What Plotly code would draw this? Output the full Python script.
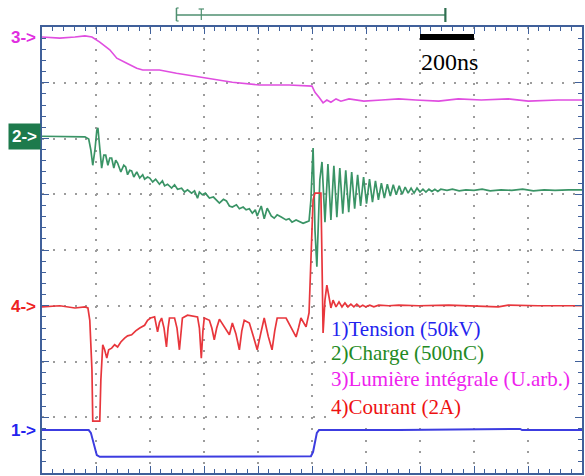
import plotly.graph_objects as go

# ---------------- data (time in ns, amplitude in screen divisions) ----------------
t_lum = [0, 66, 122, 159, 185, 199, 214, 251, 277, 314, 351, 373, 435, 498, 535, 583, 620,
         705, 804, 915, 1000, 1011, 1026, 1041, 1055, 1070, 1089, 1107, 1137, 1192, 1258,
         1321, 1384, 1469, 1542, 1627, 1727, 1801, 1911, 2000]
v_lum = [7.82, 7.80, 7.82, 7.84, 7.82, 7.78, 7.73, 7.59, 7.44, 7.35, 7.26, 7.23, 7.23, 7.17,
         7.14, 7.10, 7.07, 7.01, 6.96, 6.96, 6.94, 6.83, 6.74, 6.64, 6.69, 6.65, 6.71, 6.67,
         6.71, 6.67, 6.69, 6.71, 6.69, 6.67, 6.71, 6.69, 6.71, 6.67, 6.69, 6.69]

t_chg = [0, 103, 159, 173, 181, 188, 196, 203, 207, 214, 221, 229, 236, 244, 251, 258, 266,
         273, 280, 292, 303, 310, 317, 325, 332, 340, 351, 362, 373, 380, 391, 399, 410, 421,
         435, 446, 454, 465, 480, 491, 502, 517, 528, 539, 554, 565, 576, 583, 594, 605, 620,
         635, 646, 657, 672, 683, 694, 705, 720, 731, 745, 756, 768, 779, 790, 797, 812, 823,
         834, 849, 860, 871, 886, 904, 915, 926, 941, 952, 967, 978, 989, 996, 1000, 1004,
         1007, 1011, 1018, 1022, 1029, 1037, 1048, 1059, 1070, 1081, 1092, 1103, 1114, 1125,
         1136, 1147, 1158, 1169, 1180, 1191, 1202, 1213, 1224, 1235, 1246, 1257, 1268, 1279,
         1290, 1301, 1312, 1323, 1334, 1345, 1356, 1367, 1378, 1389, 1400, 1411, 1422, 1433,
         1444, 1455, 1466, 1477, 1500, 1520, 1545, 1570, 1600, 1630, 1660, 1700, 1740, 1780,
         1820, 1860, 1900, 1950, 2000]
v_chg = [6.04, 6.04, 6.03, 5.99, 5.79, 5.52, 5.79, 6.15, 6.19, 5.83, 5.47, 5.70, 5.70, 5.52,
         5.65, 5.65, 5.47, 5.61, 5.56, 5.40, 5.52, 5.49, 5.35, 5.43, 5.42, 5.31, 5.40, 5.29,
         5.35, 5.27, 5.31, 5.29, 5.22, 5.27, 5.18, 5.24, 5.15, 5.18, 5.11, 5.17, 5.09, 5.11,
         5.04, 5.08, 5.02, 5.06, 4.93, 5.04, 4.99, 5.02, 4.93, 4.95, 4.90, 4.84, 4.91, 4.88,
         4.79, 4.77, 4.81, 4.74, 4.77, 4.72, 4.74, 4.66, 4.72, 4.61, 4.79, 4.56, 4.75, 4.61,
         4.57, 4.63, 4.59, 4.54, 4.56, 4.50, 4.54, 4.52, 4.48, 4.50, 4.52, 4.90, 5.61, 5.83,
         5.26, 4.36, 3.70, 4.18, 5.26, 5.58, 4.50, 5.54, 4.54, 5.51, 4.59, 5.47, 4.65, 5.43,
         4.68, 5.40, 4.74, 5.35, 4.79, 5.31, 4.83, 5.27, 4.86, 5.24, 4.90, 5.20, 4.93, 5.18,
         4.97, 5.17, 4.99, 5.15, 5.00, 5.13, 5.02, 5.11, 5.02, 5.11, 5.04, 5.09, 5.04, 5.09,
         5.05, 5.09, 5.05, 5.09, 5.07, 5.09, 5.06, 5.08, 5.07, 5.09, 5.06, 5.08, 5.07, 5.09,
         5.06, 5.08, 5.07, 5.08, 5.08]

t_cur = [0, 66, 122, 159, 170, 177, 185, 188, 214, 218, 225, 232, 240, 247, 258, 269, 280,
         292, 306, 317, 332, 347, 362, 380, 391, 402, 417, 422, 428, 435, 443, 452, 461, 467,
         472, 491, 500, 509, 515, 520, 539, 557, 576, 583, 590, 596, 601, 620, 629, 638, 647,
         657, 675, 694, 705, 718, 731, 740, 749, 768, 783, 797, 810, 823, 838, 852, 862, 871,
         904, 923, 941, 950, 959, 978, 989, 996, 1004, 1011, 1033, 1037, 1041, 1048, 1055,
         1063, 1070, 1078, 1089, 1100, 1111, 1122, 1133, 1144, 1155, 1166, 1177, 1188, 1199,
         1214, 1229, 1247, 1284, 1321, 1395, 1506, 1616, 1690, 1727, 1838, 2000]
v_cur = [2.98, 3.00, 2.96, 2.98, 2.96, 2.74, 1.85, 0.93, 0.93, 1.67, 2.30, 2.21, 2.06, 2.21,
         2.24, 2.30, 2.26, 2.35, 2.42, 2.46, 2.48, 2.55, 2.60, 2.65, 2.74, 2.78, 2.80, 2.70,
         2.53, 2.70, 2.78, 2.60, 2.26, 2.60, 2.78, 2.78, 2.60, 2.21, 2.60, 2.78, 2.83, 2.82,
         2.80, 2.60, 2.06, 2.55, 2.78, 2.74, 2.60, 2.39, 2.60, 2.76, 2.62, 2.48, 2.69, 2.50,
         2.21, 2.55, 2.74, 2.69, 2.45, 2.21, 2.50, 2.78, 2.45, 2.21, 2.55, 2.78, 2.78, 2.60,
         2.44, 2.60, 2.78, 2.62, 2.87, 3.82, 4.90, 5.02, 5.02, 3.82, 2.51, 3.10, 3.37, 3.16,
         2.96, 3.10, 2.98, 3.07, 2.98, 3.05, 2.98, 3.03, 2.98, 3.03, 2.98, 3.01, 2.98, 3.01,
         2.98, 3.01, 3.00, 3.01, 3.00, 3.01, 3.00, 2.98, 3.01, 3.00, 3.00]

t_ten = [0, 173, 181, 188, 196, 203, 214, 399, 583, 768, 996, 1004, 1011, 1018, 1026, 1321,
         1771, 1778, 2000]
v_ten = [0.77, 0.77, 0.72, 0.59, 0.41, 0.32, 0.29, 0.29, 0.30, 0.29, 0.30, 0.38, 0.56, 0.72,
         0.77, 0.77, 0.79, 0.77, 0.77]

channel_levels = [0.77, 6.04, 7.82, 2.98]          # markers 1->, 2->, 3->, 4->
channel_marks = ["1->", "2->", "3->", "4->"]
legend_lines = ["1)Tension (50kV)", "2)Charge (500nC)",
                "3)Lumière intégrale (U.arb.)", "4)Courant (2A)"]
scale_label = "200ns"
scale_span = [1400, 1600]
window_bracket = [498, 590, 1494]   # start, trigger, end (ns)

# ---------------- styles ----------------
C_BLUE = "#3c3ce0"
C_GREEN = "#3a9466"
C_MAG = "#e04ee0"
C_RED = "#e8363c"
C_FRAME = "#40609a"
txt_colors = ["#2323ee", "#238a23", "#ee22ee", "#ee1111"]
mark_colors = ["#2323ee", "#ffffff", "#e02ee0", "#ee2222"]

fig = go.Figure()
fig.add_trace(go.Scatter(x=t_ten, y=v_ten, mode="lines", line=dict(color=C_BLUE, width=2)))
fig.add_trace(go.Scatter(x=t_lum, y=v_lum, mode="lines", line=dict(color=C_MAG, width=1.6)))
fig.add_trace(go.Scatter(x=t_chg, y=v_chg, mode="lines", line=dict(color=C_GREEN, width=1.7)))
fig.add_trace(go.Scatter(x=t_cur, y=v_cur, mode="lines", line=dict(color=C_RED, width=1.7)))

def py2paper(p):
    return (473 - p) / 446.0

shapes = []
# white box behind the legend text
shapes.append(dict(type="rect", xref="x", yref="y", x0=1052, x1=1990, y0=0.95, y1=2.83,
                   fillcolor="white", line=dict(width=0), layer="between"))
# scale bar
shapes.append(dict(type="rect", xref="x", yref="paper", x0=scale_span[0], x1=scale_span[1],
                   y0=py2paper(40), y1=py2paper(34), fillcolor="black", line=dict(width=0)))
# acquisition window bracket
bc = "#4f8f70"
s, trig, e = window_bracket
shapes.append(dict(type="line", xref="x", yref="paper", x0=s, x1=e, y0=py2paper(15), y1=py2paper(15),
                   line=dict(color=bc, width=1.5)))
shapes.append(dict(type="line", xref="x", yref="paper", x0=s, x1=s, y0=py2paper(8), y1=py2paper(21),
                   line=dict(color=bc, width=1.5)))
shapes.append(dict(type="line", xref="x", yref="paper", x0=s, x1=s + 8, y0=py2paper(8), y1=py2paper(8),
                   line=dict(color=bc, width=1.2)))
shapes.append(dict(type="line", xref="x", yref="paper", x0=s, x1=s + 8, y0=py2paper(21), y1=py2paper(21),
                   line=dict(color=bc, width=1.2)))
shapes.append(dict(type="line", xref="x", yref="paper", x0=trig - 10, x1=trig + 10, y0=py2paper(9), y1=py2paper(9),
                   line=dict(color=bc, width=1.2)))
shapes.append(dict(type="line", xref="x", yref="paper", x0=trig, x1=trig, y0=py2paper(9), y1=py2paper(20),
                   line=dict(color=bc, width=1.2)))
shapes.append(dict(type="line", xref="x", yref="paper", x0=e, x1=e, y0=py2paper(8), y1=py2paper(22),
                   line=dict(color="#2f6f50", width=2.2)))

annotations = []
for lab, lev, col in zip(channel_marks, channel_levels, mark_colors):
    a = dict(text="<b>%s</b>" % lab, xref="paper", yref="y", x=0, y=lev, xanchor="right",
             yanchor="middle", showarrow=False,
             font=dict(family="Liberation Sans", size=17, color=col))
    if lab == "2->":
        a.update(bgcolor="#1d7a4c", borderpad=3, xshift=-1)
    else:
        a.update(xshift=-4)
    annotations.append(a)

legend_y = [2.58, 2.15, 1.69, 1.18]
for txt, yv, col in zip(legend_lines, legend_y, txt_colors):
    annotations.append(dict(text=txt, xref="x", yref="y", x=1063, y=yv, xanchor="left",
                            yanchor="middle", showarrow=False,
                            font=dict(family="Liberation Serif", size=21, color=col)))
annotations.append(dict(text=scale_label, xref="x", yref="paper", x=sum(scale_span) / 2 + 10,
                        y=py2paper(62), xanchor="center", yanchor="middle", showarrow=False,
                        font=dict(family="Liberation Serif", size=24, color="black")))

axis_common = dict(showticklabels=False, showline=True, linecolor=C_FRAME, linewidth=1.6,
                   mirror="ticks", ticks="inside", ticklen=7, tickcolor=C_FRAME, tickwidth=1.3,
                   zeroline=False, showgrid=True, gridcolor="#9c9c9c", gridwidth=1.6,
                   fixedrange=True)

fig.update_layout(
    width=585, height=476,
    margin=dict(l=42, r=1, t=27, b=3),
    paper_bgcolor="white", plot_bgcolor="white",
    showlegend=False,
    xaxis=dict(range=[0, 2000], dtick=200, tick0=0, griddash="2px,9.15px",
               minor=dict(dtick=40, tick0=0, ticks="inside", ticklen=4, tickcolor=C_FRAME,
                          tickwidth=1.1, showgrid=False),
               **axis_common),
    yaxis=dict(range=[0, 8], dtick=1, tick0=0, griddash="2px,8.84px",
               minor=dict(dtick=0.2, tick0=0, ticks="inside", ticklen=4, tickcolor=C_FRAME,
                          tickwidth=1.1, showgrid=False),
               **axis_common),
    shapes=shapes,
    annotations=annotations,
)

fig.write_html("out.html")
